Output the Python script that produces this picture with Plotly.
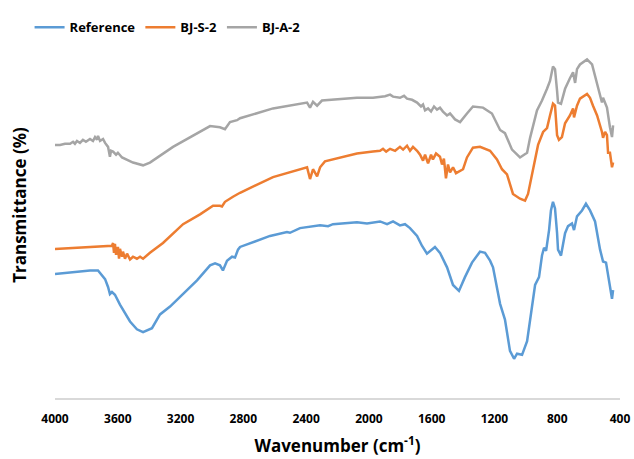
import plotly.graph_objects as go

# Reference (blue)
ref_wn = [4000, 3777, 3726, 3681, 3662, 3650, 3637, 3618, 3586, 3522, 3478, 3439, 3382, 3331, 3267, 3184,
          3095, 3012, 2980, 2949, 2930, 2904, 2872, 2853, 2834, 2821, 2757, 2630, 2522, 2503, 2439, 2311,
          2260, 2229, 2076, 2012, 1929, 1884, 1846, 1802, 1770, 1738, 1693, 1662, 1630, 1598, 1579, 1547,
          1502, 1464, 1426, 1388, 1343, 1292, 1260, 1228, 1209, 1164, 1133, 1101, 1075, 1056, 1024, 992,
          973, 941, 916, 897, 884, 871, 852, 840, 827, 814, 801, 795, 776, 750, 731, 706, 693, 674, 642,
          617, 591, 559, 527, 508, 489, 464, 451, 444]
ref_t = [31.6, 32.5, 32.5, 30.3, 28.3, 26.5, 27.0, 26.3, 23.8, 19.5, 17.5, 16.8, 17.8, 21.3, 23.3, 26.5,
         30.0, 33.8, 34.3, 33.8, 32.5, 35.0, 36.0, 35.8, 37.8, 38.5, 39.5, 41.3, 42.3, 42.1, 43.3, 44.0,
         43.8, 44.3, 44.8, 44.5, 45.0, 44.3, 45.0, 44.0, 44.3, 43.3, 41.3, 38.8, 36.8, 38.0, 38.5, 37.0,
         33.3, 28.8, 27.3, 30.8, 34.5, 37.3, 37.0, 35.0, 33.3, 24.0, 20.0, 12.0, 10.0, 11.3, 11.0, 14.5,
         20.3, 28.8, 30.8, 36.3, 38.3, 37.5, 42.8, 47.8, 50.0, 48.3, 42.0, 37.8, 36.3, 42.0, 43.8, 44.5,
         42.8, 46.3, 47.8, 49.5, 47.8, 45.0, 37.8, 34.8, 34.5, 28.3, 25.3, 27.5]

# BJ-S-2 (orange)
s2_wn = [4000, 3777, 3637, 3630, 3624, 3618, 3611, 3599, 3592, 3586, 3573, 3567, 3554, 3541, 3522, 3503,
         3478, 3458, 3439, 3395, 3312, 3184, 3076, 2993, 2949, 2936, 2917, 2866, 2821, 2611, 2394, 2375,
         2356, 2330, 2311, 2280, 2076, 1974, 1929, 1910, 1890, 1865, 1833, 1802, 1782, 1757, 1738, 1719,
         1693, 1674, 1655, 1642, 1623, 1604, 1592, 1572, 1547, 1534, 1522, 1509, 1496, 1483, 1464, 1445,
         1419, 1400, 1375, 1337, 1292, 1228, 1184, 1152, 1120, 1082, 1037, 1005, 986, 960, 922, 890, 865,
         846, 827, 814, 801, 789, 770, 750, 719, 699, 693, 674, 655, 610, 591, 572, 546, 515, 508, 495,
         483, 476, 464, 451, 444]
s2_t = [38.0, 38.5, 38.8, 39.5, 37.0, 39.3, 36.5, 38.5, 35.5, 38.0, 36.0, 37.3, 35.5, 36.8, 35.3, 36.0,
        35.5, 36.0, 35.5, 37.0, 39.5, 44.3, 46.8, 49.0, 49.0, 48.8, 50.0, 51.3, 52.3, 56.3, 58.8, 55.8,
        58.3, 56.5, 58.8, 60.3, 62.3, 62.8, 63.0, 63.5, 62.8, 63.5, 63.0, 64.0, 63.3, 64.3, 63.0, 64.0,
        63.0, 62.0, 60.5, 62.0, 59.8, 62.0, 60.8, 62.3, 61.5, 59.5, 61.0, 56.0, 59.5, 57.5, 58.8, 57.3,
        57.8, 58.3, 61.3, 63.8, 64.0, 63.0, 60.8, 58.3, 57.0, 52.0, 50.8, 50.3, 52.0, 57.0, 64.5, 67.8, 68.8,
        72.0, 75.0, 74.5, 67.0, 65.8, 66.5, 70.0, 72.0, 73.8, 71.5, 74.5, 76.3, 77.5, 76.5, 74.5, 72.0, 67.8,
        66.3, 67.8, 67.0, 62.5, 62.5, 58.8, 60.0]

# BJ-A-2 (gray)
a2_wn = [4000, 3968, 3936, 3904, 3885, 3873, 3860, 3841, 3822, 3803, 3777, 3758, 3745, 3732, 3726, 3713,
         3694, 3681, 3662, 3650, 3643, 3630, 3611, 3599, 3573, 3541, 3503, 3439, 3395, 3248, 3140, 3012,
         2949, 2917, 2885, 2840, 2821, 2611, 2394, 2375, 2356, 2330, 2299, 2076, 1974, 1897, 1865, 1846,
         1802, 1776, 1757, 1725, 1693, 1668, 1655, 1642, 1623, 1604, 1585, 1566, 1547, 1528, 1502, 1483,
         1451, 1419, 1375, 1337, 1273, 1216, 1164, 1133, 1088, 1037, 992, 973, 929, 897, 865, 846, 827,
         814, 801, 795, 776, 750, 719, 699, 686, 674, 655, 610, 578, 546, 515, 508, 483, 464, 451, 444]
a2_t = [64.5, 64.5, 64.8, 64.8, 65.3, 64.8, 65.5, 65.0, 65.8, 65.3, 66.0, 65.5, 66.5, 65.8, 66.8, 65.5,
        66.0, 65.0, 64.0, 61.5, 63.0, 62.8, 62.0, 62.5, 61.3, 60.8, 60.0, 59.3, 60.0, 64.0, 66.5, 69.3,
        69.0, 68.5, 70.3, 70.8, 71.3, 73.8, 75.3, 74.0, 75.5, 74.5, 75.8, 76.5, 76.5, 76.9, 77.3, 76.8,
        76.5, 77.0, 76.3, 76.0, 75.3, 74.3, 74.8, 73.3, 73.8, 73.0, 74.3, 73.5, 74.0, 73.0, 72.0, 72.5,
        71.0, 70.3, 72.5, 74.3, 74.0, 72.5, 68.3, 67.5, 63.3, 61.3, 62.5, 66.3, 73.3, 75.8, 78.8, 80.8, 84.5,
        83.8, 78.3, 75.3, 75.0, 78.8, 81.5, 83.0, 80.3, 83.8, 85.0, 86.3, 85.0, 80.3, 75.3, 76.5, 74.0,
        69.0, 66.5, 69.5]

x_ticks = [4000, 3600, 3200, 2800, 2400, 2000, 1600, 1200, 800, 400]

series = [
    ("Reference", ref_wn, ref_t, "#5B9BD5"),
    ("BJ-S-2", s2_wn, s2_t, "#ED7D31"),
    ("BJ-A-2", a2_wn, a2_t, "#A5A5A5"),
]

fig = go.Figure()
for name, xs, ys, col in series:
    fig.add_trace(go.Scatter(x=xs, y=ys, mode="lines", name=name,
                             line=dict(color=col, width=2.5)))

font_family = "Open Sans, Liberation Sans, Arial, sans-serif"
fig.update_layout(
    width=634, height=459,
    margin=dict(l=55, r=14, t=30, b=61),
    paper_bgcolor="white", plot_bgcolor="white",
    font=dict(family=font_family, color="#000000"),
    showlegend=True,
    legend=dict(orientation="h", x=-0.045, xanchor="left", y=1.027, yanchor="middle",
                font=dict(size=13, family=font_family, weight="bold"),
                itemwidth=30, tracegroupgap=0, bgcolor="rgba(0,0,0,0)"),
    xaxis=dict(range=[4000, 400], tickvals=x_ticks, ticktext=[str(v) for v in x_ticks],
               automargin=False,
               showgrid=False, zeroline=False, showline=True, linecolor="#D9D9D9", linewidth=1.5,
               ticks="outside", ticklen=9, tickcolor="rgba(0,0,0,0)",
               tickfont=dict(size=12, weight="bold"),
               title=dict(text="Wavenumber (cm<sup>-1</sup>)", font=dict(size=17, weight="bold"),
                          standoff=14)),
    yaxis=dict(range=[0, 92], showgrid=False, zeroline=False, showline=False, showticklabels=False,
               automargin=False, ticks=""),
    annotations=[dict(text="Transmittance (%)", textangle=-90, xref="paper", yref="paper",
                      x=-0.062, y=0.535, xanchor="center", yanchor="middle", showarrow=False,
                      font=dict(size=17, weight="bold", family=font_family))],
)

fig.write_html("out.html")
